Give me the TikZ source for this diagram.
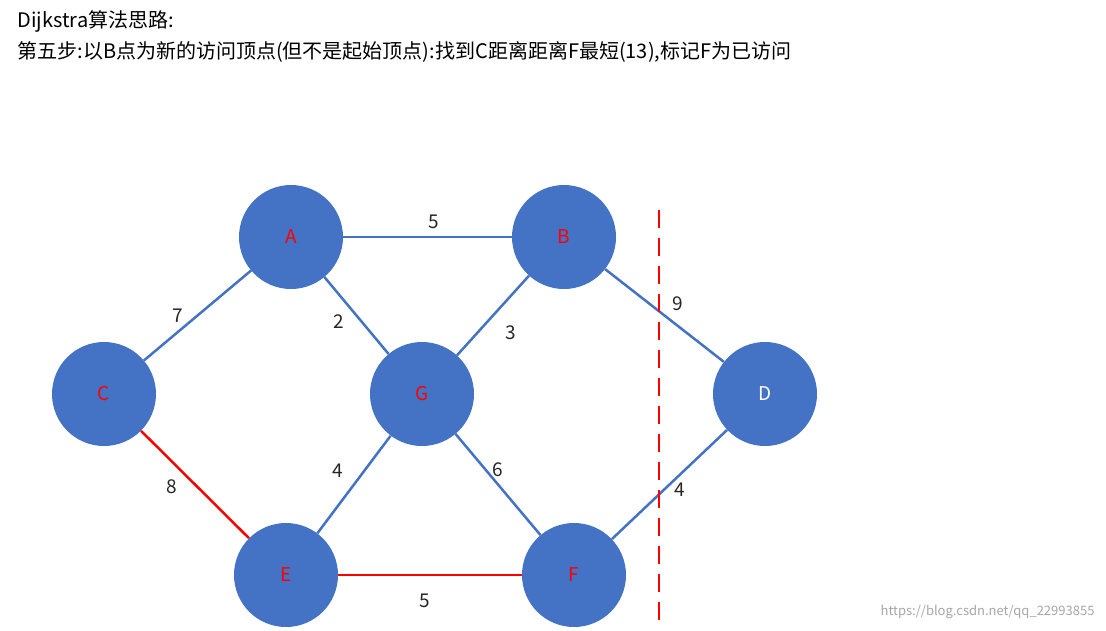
\documentclass[tikz,border=0pt]{standalone}
\usepackage{fontspec}
\setmainfont{Noto Sans CJK SC}
\begin{document}
\begin{tikzpicture}[x=1pt,y=-1pt,
  vtx/.style={circle,fill=nb,minimum size=104pt,inner sep=0pt,text=red,font=\fontsize{19}{19}\selectfont},
  bl/.style={draw=nb,line width=2.5pt},
  rl/.style={draw=red,line width=2.5pt},
  wt/.style={font=\fontsize{19}{19}\selectfont,text=black!85}]
\definecolor{nb}{HTML}{4472C4}
\useasboundingbox (0,0) rectangle (1106,630);
\node[anchor=west,font=\fontsize{20}{20}\selectfont] (t1) at (14,21) {Dijkstra算法思路:};
\node[anchor=west,font=\fontsize{20}{20}\selectfont] (t2) at (14,52) {第五步:以B点为新的访问顶点(但不是起始顶点):找到C距离距离F最短(13),标记F为已访问};
\node[vtx] (A) at (291,237) {A};
\node[vtx] (B) at (564,237) {B};
\node[vtx] (C) at (104,394) {C};
\node[vtx] (G) at (422,394) {G};
\node[vtx,text=white] (D) at (765,394) {D};
\node[vtx] (E) at (286,575) {E};
\node[vtx] (F) at (574,575) {F};
\draw[bl] (A) -- (B);
\draw[bl] (A) -- (C);
\draw[bl] (A) -- (G);
\draw[bl] (B) -- (G);
\draw[bl] (B) -- (D);
\draw[bl] (G) -- (E);
\draw[bl] (G) -- (F);
\draw[bl] (D) -- (F);
\draw[rl] (C) -- (E);
\draw[rl] (E) -- (F);
\node[wt] (w1) at (434,222) {5};
\node[wt] (w2) at (178,316) {7};
\node[wt] (w3) at (339,322) {2};
\node[wt] (w4) at (511,333) {3};
\node[wt] (w5) at (678,304) {9};
\node[wt] (w6) at (338,471) {4};
\node[wt] (w7) at (498,470) {6};
\node[wt] (w8) at (680,490) {4};
\node[wt] (w9) at (172,487) {8};
\node[wt] (w10) at (425,601) {5};
\coordinate (d1) at (659,210);
\coordinate (d2) at (659,626);
\draw[red,line width=2.5pt,dash pattern=on 18pt off 10pt] (d1) -- (d2);
\node[anchor=east,text=black!35,font=\fontsize{13}{13}\selectfont] (wm) at (1098,612) {https://blog.csdn.net/qq\_22993855};
\end{tikzpicture}
\end{document}
